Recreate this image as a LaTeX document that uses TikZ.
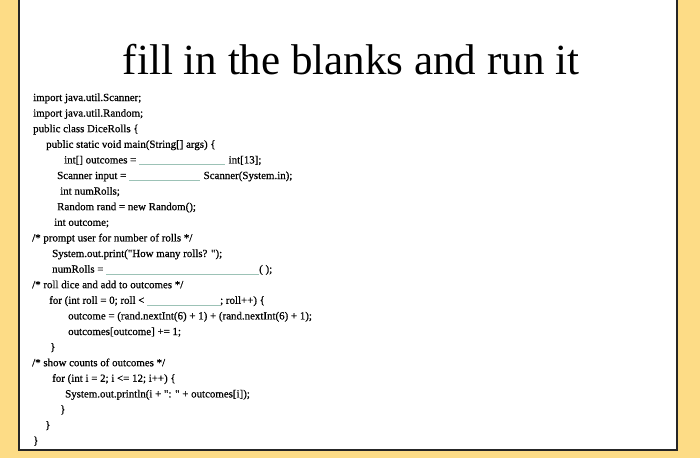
\documentclass[tikz,border=0pt]{standalone}
\usepackage{fontspec}
\setmainfont{Liberation Serif}
\newfontfamily\codefont[FakeBold=0.6]{Liberation Serif}
\definecolor{slidebg}{HTML}{FDDC86}
\definecolor{blankc}{HTML}{9CC2B6}
\newcommand{\blankline}[1]{\textcolor{blankc}{\rule[-1.5pt]{#1pt}{0.6pt}}}
\begin{document}
\begin{tikzpicture}[x=1pt,y=-1pt,
  code/.style={anchor=base west,inner sep=0pt,font=\codefont\fontsize{10.9}{12}\selectfont}]
\useasboundingbox (0,0) rectangle (700,458);
\fill[slidebg] (0,0) rectangle (700,458);
\fill[white] (19,-2) rectangle (677,450);
\draw[line width=1.5pt,black!85] (19,-2) -- (19,450) -- (677,450) -- (677,-2);
\node[anchor=base,inner sep=0pt,font=\fontsize{43}{46}\selectfont] (title) at (351,74) {fill in the blanks and run it};
\node[code] (l1) at (33,101) {import java.util.Scanner;};
\node[code] (l2) at (33,116.6) {import java.util.Random;};
\node[code] (l3) at (33,132.2) {public class DiceRolls \{};
\node[code] (l4) at (46,147.8) {public static void main(String[] args) \{};
\node[code] (l5) at (64,163.4) {int[] outcomes = \blankline{86}\,\,int[13];};
\node[code] (l6) at (57,179) {Scanner input = \blankline{71}\,\,Scanner(System.in);};
\node[code] (l7) at (60,194.6) {int numRolls;};
\node[code] (l8) at (57,210.2) {Random rand = new Random();};
\node[code] (l9) at (54,225.8) {int outcome;};
\node[code] (l10) at (32,241.4) {/* prompt user for number of rolls */};
\node[code] (l11) at (52,257) {System.out.print("How many rolls? ");};
\node[code] (l12) at (52,272.6) {numRolls = \blankline{153}( );};
\node[code] (l13) at (32,288.2) {/* roll dice and add to outcomes */};
\node[code] (l14) at (49,303.8) {for (int roll = 0; roll < \blankline{73}; roll++) \{};
\node[code] (l15) at (68,319.4) {outcome = (rand.nextInt(6) + 1) + (rand.nextInt(6) + 1);};
\node[code] (l16) at (68,335) {outcomes[outcome] += 1;};
\node[code] (l17) at (50,350.6) {\}};
\node[code] (l18) at (32,366.2) {/* show counts of outcomes */};
\node[code] (l19) at (52,381.8) {for (int i = 2; i <= 12; i++) \{};
\node[code] (l20) at (65,397.4) {System.out.println(i + ": " + outcomes[i]);};
\node[code] (l21) at (60,413) {\}};
\node[code] (l22) at (45,428.6) {\}};
\node[code] (l23) at (33,444.2) {\}};
\end{tikzpicture}
\end{document}
